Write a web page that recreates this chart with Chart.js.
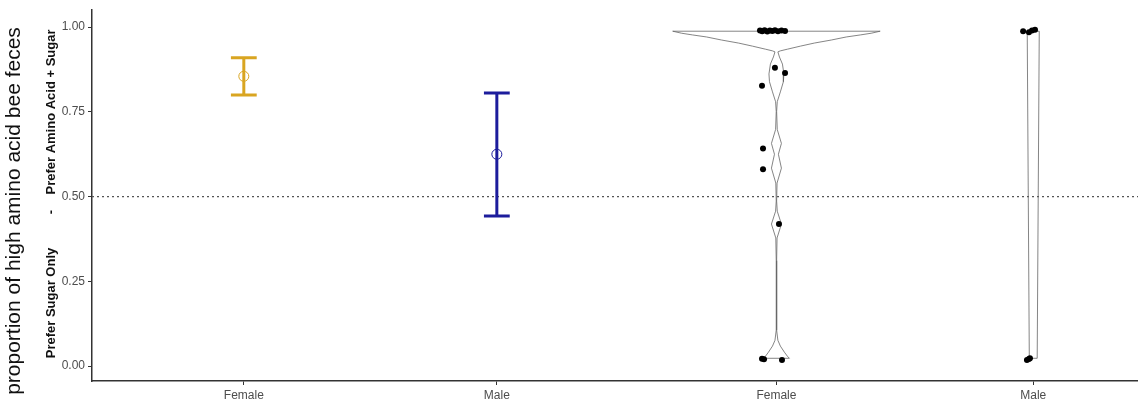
<!DOCTYPE html>
<html>
<head>
<meta charset="utf-8">
<script src="https://cdn.jsdelivr.net/npm/chart.js@4/dist/chart.umd.min.js"></script>
<style>
    html, body { margin: 0; padding: 0; background: #fff; }
    #chart { display: block; }
</style>
</head>
<body>
<canvas id="chart" width="1138" height="407"></canvas>
<script>
// Bee feces chart: summary panel (mean + interval) and raw panel (violin + points)

const groupLabels = ['Female', 'Male', 'Female', 'Male'];
const yTicks = [0, 0.25, 0.5, 0.75, 1];

// left panel: mean and interval
const meanVals = [0.855, 0.625];
const lowerVals = [0.800, 0.443];
const upperVals = [0.910, 0.806];

// right panel: raw points
const femaleVals = [0.990, 0.988, 0.991, 0.987, 0.990, 0.989, 0.991, 0.988, 0.990, 0.989,
                    0.880, 0.865, 0.827, 0.642, 0.581, 0.419, 0.022, 0.020, 0.018];
const femaleJitter = [-0.065, -0.056, -0.047, -0.036, -0.026, -0.016, -0.006, 0.006, 0.020, 0.034,
                      -0.006, 0.034, -0.057, -0.053, -0.053, 0.010, -0.057, -0.049, 0.022];
const maleVals = [0.988, 0.985, 0.990, 0.992, 0.018, 0.021, 0.023];
const maleJitter = [-0.040, -0.017, -0.005, 0.007, -0.025, -0.017, -0.013];

// violin outlines (relative density read along y)
const femaleDensY = [0.988, 0.982, 0.977, 0.971, 0.962, 0.953, 0.944, 0.935, 0.930, 0.927,
                     0.912, 0.891, 0.862, 0.839, 0.809, 0.780, 0.751, 0.698, 0.657, 0.625,
                     0.584, 0.540, 0.487, 0.457, 0.419, 0.378, 0.311, 0.106, 0.076, 0.059,
                     0.041, 0.029, 0.023];
const femaleDens = [1.000, 0.913, 0.808, 0.673, 0.529, 0.365, 0.231, 0.106, 0.038, 0.014,
                    0.029, 0.058, 0.072, 0.067, 0.038, 0.008, 0.002, 0.008, 0.048, 0.019,
                    0.048, 0.006, 0.002, 0.008, 0.048, 0.006, 0.002, 0.002, 0.014, 0.038,
                    0.077, 0.106, 0.125];
const maleDensY = [0.988, 0.023];
const maleDens = [0.058, 0.038];

// layout
const groupPos = [0.6, 1.6, 2.705, 3.72];
const xMax = 4.134;
const capHalf = 0.051;
const violinHalf = 0.41;
const summaryColors = ['#d9a521', '#1c1c9c'];

function errorBarData(i) {
    const p = groupPos[i];
    return [
        { x: p - capHalf, y: upperVals[i] }, { x: p + capHalf, y: upperVals[i] },
        { x: p, y: null },
        { x: p, y: upperVals[i] }, { x: p, y: lowerVals[i] },
        { x: p, y: null },
        { x: p - capHalf, y: lowerVals[i] }, { x: p + capHalf, y: lowerVals[i] }
    ];
}

function violinData(pos, ys, dens) {
    const right = ys.map((y, k) => ({ x: pos + dens[k] * violinHalf, y: y }));
    const left = ys.map((y, k) => ({ x: pos - dens[k] * violinHalf, y: y })).reverse();
    return right.concat(left, [right[0]]);
}

function pointData(pos, vals, jitter) {
    return vals.map((v, k) => ({ x: pos + jitter[k], y: v }));
}

const datasets = [];

// raw points on top
datasets.push({
    data: pointData(groupPos[2], femaleVals, femaleJitter),
    showLine: false, pointRadius: 3, pointBackgroundColor: '#000', pointBorderWidth: 0, order: 0
});
datasets.push({
    data: pointData(groupPos[3], maleVals, maleJitter),
    showLine: false, pointRadius: 3, pointBackgroundColor: '#000', pointBorderWidth: 0, order: 0
});

// mean circles
meanVals.forEach((m, i) => {
    datasets.push({
        data: [{ x: groupPos[i], y: m }],
        showLine: false, pointRadius: 5, pointBorderWidth: 1,
        pointBorderColor: summaryColors[i], pointBackgroundColor: 'rgba(0,0,0,0)', order: 0
    });
});

// error bars
meanVals.forEach((m, i) => {
    datasets.push({
        data: errorBarData(i),
        showLine: true, borderColor: summaryColors[i], borderWidth: 3,
        pointRadius: 0, spanGaps: false, order: 1
    });
});

// violins
datasets.push({
    data: violinData(groupPos[2], femaleDensY, femaleDens),
    showLine: true, borderColor: '#666', borderWidth: 0.8, pointRadius: 0, order: 2
});
datasets.push({
    data: violinData(groupPos[3], maleDensY, maleDens),
    showLine: true, borderColor: '#666', borderWidth: 0.8, pointRadius: 0, order: 2
});

// dotted reference at 0.5
datasets.push({
    data: [{ x: 0, y: 0.5 }, { x: xMax, y: 0.5 }],
    showLine: true, borderColor: '#555', borderWidth: 1.2, borderDash: [2, 3],
    pointRadius: 0, order: 3
});

const yTitlePlugin = {
    id: 'yTitles',
    afterDraw(chart) {
        const ctx = chart.ctx;
        ctx.save();
        ctx.fillStyle = '#111';
        ctx.textAlign = 'center';
        ctx.textBaseline = 'middle';

        ctx.save();
        ctx.translate(14, 211);
        ctx.rotate(-Math.PI / 2);
        ctx.font = '21px "Liberation Sans", Arial, sans-serif';
        ctx.fillText('proportion of high amino acid bee feces', 0, 0);
        ctx.restore();

        ctx.font = 'bold 13px "Liberation Sans", Arial, sans-serif';
        [['Prefer Sugar Only', 303], ['-', 212], ['Prefer Amino Acid + Sugar', 112]].forEach(t => {
            ctx.save();
            ctx.translate(51, t[1]);
            ctx.rotate(-Math.PI / 2);
            ctx.fillText(t[0], 0, 0);
            ctx.restore();
        });
        ctx.restore();
    }
};

new Chart(document.getElementById('chart'), {
    type: 'scatter',
    data: { datasets: datasets },
    options: {
        responsive: false,
        animation: false,
        devicePixelRatio: 1,
        layout: { autoPadding: false, padding: { top: 8, right: 0, left: 0, bottom: 0 } },
        plugins: {
            legend: { display: false },
            tooltip: { enabled: false }
        },
        scales: {
            x: {
                type: 'linear',
                min: 0,
                max: xMax,
                afterBuildTicks: s => { s.ticks = groupPos.map(v => ({ value: v })); },
                afterFit: s => { s.height = 26; s.paddingLeft = 0; s.paddingRight = 0; },
                ticks: {
                    autoSkip: false,
                    maxRotation: 0,
                    padding: 3,
                    color: '#4d4d4d',
                    font: { size: 12, family: '"Liberation Sans", Arial, sans-serif' },
                    callback: (v, i) => groupLabels[i]
                },
                grid: { drawOnChartArea: false, tickLength: 4, color: '#333' },
                border: { color: '#333', width: 1.5 }
            },
            y: {
                type: 'linear',
                min: -0.044,
                max: 1.05,
                afterBuildTicks: s => { s.ticks = yTicks.map(v => ({ value: v })); },
                afterFit: s => { s.width = 92; },
                ticks: {
                    padding: 3,
                    color: '#4d4d4d',
                    font: { size: 12, family: '"Liberation Sans", Arial, sans-serif' },
                    callback: v => v.toFixed(2)
                },
                grid: { drawOnChartArea: false, tickLength: 4, color: '#333' },
                border: { color: '#333', width: 1.5 }
            }
        }
    },
    plugins: [yTitlePlugin]
});
</script>
</body>
</html>
